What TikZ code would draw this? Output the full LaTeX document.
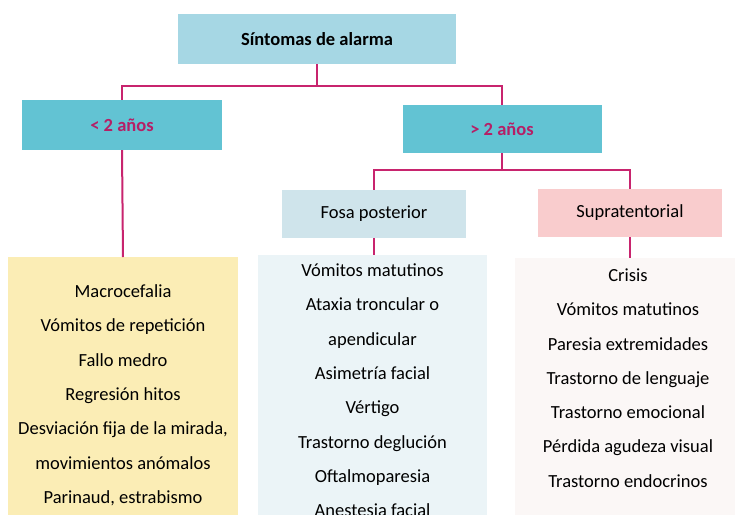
\documentclass[tikz,border=0pt]{standalone}
\usepackage{fontspec}
\setmainfont{Carlito}
\definecolor{topc}{HTML}{A6D7E4}
\definecolor{agec}{HTML}{62C3D3}
\definecolor{magc}{HTML}{B51F66}
\definecolor{linec}{HTML}{C8246E}
\definecolor{fosac}{HTML}{CFE4EB}
\definecolor{suprac}{HTML}{F9CCCD}
\definecolor{yelc}{HTML}{FBEDB5}
\definecolor{fosalc}{HTML}{EBF4F7}
\definecolor{supralc}{HTML}{FBF7F6}
\tikzset{
  box/.style={rectangle, inner sep=0pt, text=black},
  conn/.style={draw=linec, line width=2pt},
  listtext/.style={inner sep=0pt, align=center, anchor=north, text=black, font=\fontsize{18.5}{34.3}\selectfont},
}
\begin{document}
\begin{tikzpicture}[x=1pt,y=-1pt]
\useasboundingbox (0,0) rectangle (735,514);
\clip (0,0) rectangle (735,514);
\fill[white] (0,0) rectangle (735,514);
% boxes
\node[box, fill=topc, minimum width=278pt, minimum height=50pt, font=\fontsize{18.5}{22}\selectfont\bfseries] (top) at (317,39) {Síntomas de alarma};
\node[box, fill=agec, minimum width=200pt, minimum height=50pt, text=magc, font=\fontsize{18.5}{22}\selectfont\bfseries] (lt2) at (122,125) {< 2 años};
\node[box, fill=agec, minimum width=199pt, minimum height=48pt, text=magc, font=\fontsize{18.5}{22}\selectfont\bfseries] (gt2) at (502,129) {> 2 años};
\node[box, fill=fosac, minimum width=184pt, minimum height=48pt, font=\fontsize{18.5}{22}\selectfont] (fosa) at (374,214) {Fosa posterior};
\node[box, fill=suprac, minimum width=184pt, minimum height=48pt, font=\fontsize{18.5}{22}\selectfont] (supra) at (630,213) {Supratentorial};
% list boxes
\node[box, fill=yelc, minimum width=230pt, minimum height=270pt, anchor=north] (ylist) at (123,257) {};
\node[box, fill=fosalc, minimum width=229pt, minimum height=270pt, anchor=north] (flist) at (372.5,255) {};
\node[box, fill=supralc, minimum width=222pt, minimum height=270pt, anchor=north] (slist) at (626,258) {};
% list texts
\node[listtext] (ytext) at (123,284.5) {Macrocefalia\\Vómitos de repetición\\Fallo medro\\Regresión hitos\\Desviación fija de la mirada,\\movimientos anómalos\\Parinaud, estrabismo};
\node[listtext] (ftext) at (372.5,263.5) {Vómitos matutinos\\Ataxia troncular o\\apendicular\\Asimetría facial\\Vértigo\\Trastorno deglución\\Oftalmoparesia\\Anestesia facial};
\node[listtext] (stext) at (628,268.5) {Crisis\\Vómitos matutinos\\Paresia extremidades\\Trastorno de lenguaje\\Trastorno emocional\\Pérdida agudeza visual\\Trastorno endocrinos};
% connectors
\coordinate (j1) at (317,86);
\coordinate (j2) at (502,170);
\draw[conn] (top.south) -- (j1);
\draw[conn] (lt2.north) |- (j1) -| (gt2.north);
\draw[conn] (lt2.south) -- (ylist.north);
\draw[conn] (gt2.south) -- (j2);
\draw[conn] (fosa.north) |- (j2) -| (supra.north);
\draw[conn] (fosa.south) -- (fosa.south |- flist.north);
\draw[conn] (supra.south) -- (supra.south |- slist.north);
\end{tikzpicture}
\end{document}
